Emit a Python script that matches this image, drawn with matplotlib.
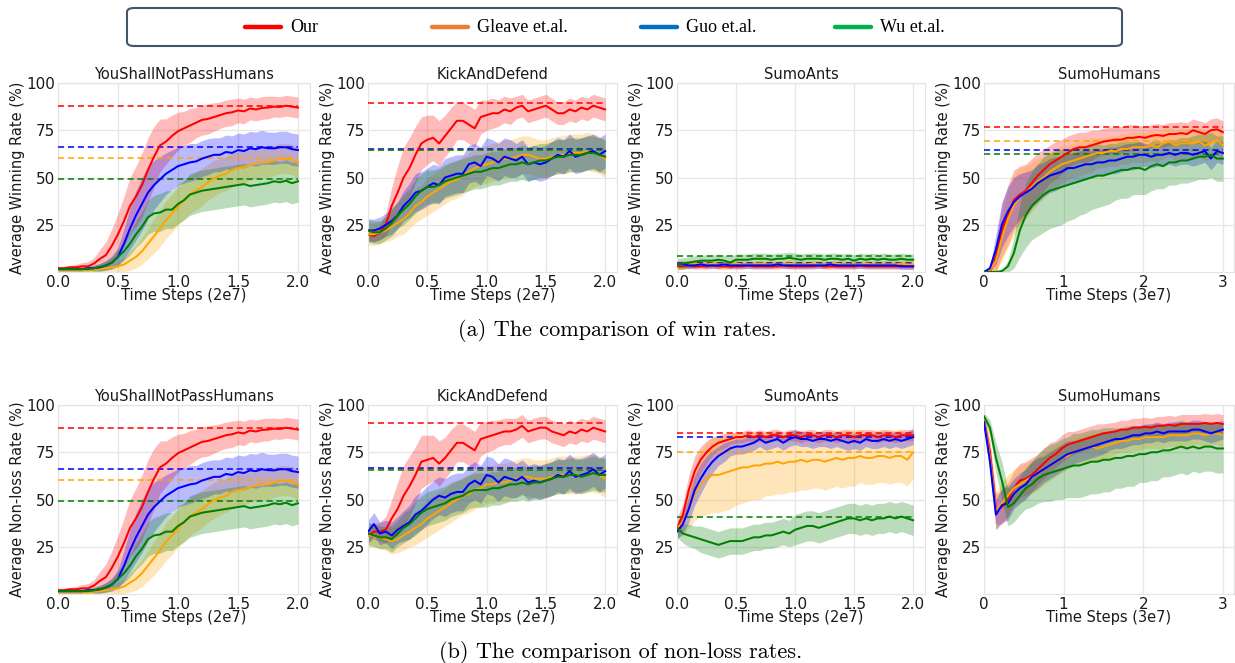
import numpy as np
import matplotlib
matplotlib.use("Agg")
import matplotlib.pyplot as plt
from matplotlib.patches import FancyBboxPatch
from matplotlib.lines import Line2D

# ---------------- data ----------------
methods = ["Our", "Gleave et.al.", "Guo et.al.", "Wu et.al."]
line_colors = ["#FF0000", "#FFA500", "#0000FF", "#008000"]
legend_colors = ["#FF0000", "#ED7D31", "#0070C0", "#00B050"]
titles = ["YouShallNotPassHumans", "KickAndDefend", "SumoAnts", "SumoHumans"]
xlabels = ["Time Steps (2e7)", "Time Steps (2e7)", "Time Steps (2e7)", "Time Steps (3e7)"]
ylabels = ["Average Winning Rate (%)", "Average Non-loss Rate (%)"]
captions = ["(a) The comparison of win rates.", "(b) The comparison of non-loss rates."]
steps_2e7 = np.linspace(0.0, 2.0, 41)
steps_3e7 = np.linspace(0.0, 3.0, 41)
yticks = [25, 50, 75, 100]
xticks_2e7 = [0.0, 0.5, 1.0, 1.5, 2.0]
xticks_3e7 = [0, 1, 2, 3]

# YouShallNotPassHumans (win rate == non-loss rate)
ysnp_our = [2, 2, 2.5, 2.5, 3, 3, 4.5, 7, 9, 14,
            20, 27, 35, 40, 46, 54, 61, 67, 69, 72,
            74.5, 76, 77.5, 79, 80.5, 81, 82, 83, 84, 84.5,
            85.5, 85, 86.5, 86, 86.8, 87, 87.5, 87.3, 88, 87.5, 87]
ysnp_our_sd = [1, 1, 1, 1.5, 2, 2.5, 3, 5, 7, 9,
               11, 13, 15, 16, 17, 17, 16, 14, 12, 11,
               10, 9, 9, 8, 8, 8, 7.5, 7, 7, 7,
               6.5, 6.5, 6, 6, 6, 6, 5.5, 5.5, 5.5, 5.5, 5.5]
ysnp_gleave = [1, 1, 1, 1, 1, 1, 1.2, 1.5, 2, 2.5,
               3, 4, 6, 8, 11, 15, 19, 23, 27.6, 31,
               34.6, 38, 41, 43, 45, 47.5, 49.6, 51, 52, 54,
               55, 55.5, 56.6, 57.5, 58.3, 58, 59, 60, 60, 59.5, 57.5]
ysnp_gleave_sd = [1, 1, 1, 1, 1, 1, 1, 1.5, 2, 2.5,
                  3, 4, 5, 6, 7, 8, 9, 9.5, 10, 10,
                  10, 10, 10, 10, 10, 9.5, 9.5, 9, 9, 9,
                  8.5, 8.5, 8, 8, 8, 8, 8, 8, 8, 8, 8]
ysnp_guo = [1.5, 1.5, 1.5, 1.5, 1.5, 2, 2, 2.5, 3.5, 5,
            8, 15, 23, 30, 36, 42, 46, 49, 52, 54,
            56, 57, 58, 58.5, 60, 61, 62, 62, 63.5, 63,
            64.5, 64, 65.4, 65, 66, 65.5, 65.4, 66, 66, 65, 64.5]
ysnp_guo_sd = [1, 1, 1, 1, 1, 1, 1.5, 2, 2.5, 3.5,
               5, 8, 11, 13, 14, 14, 13, 12, 11, 10.5,
               10, 10, 10, 9.5, 9.5, 9.5, 9, 9, 9, 9,
               9, 9, 9, 9, 9, 8.5, 8.5, 8.5, 8.5, 8.5, 8.5]
ysnp_wu = [1.5, 1.5, 1.5, 1.5, 1.5, 1.5, 2, 2.5, 3.5, 5,
           8, 11, 15, 20, 24, 29, 31, 31.5, 33, 33,
           36, 38, 41, 42, 43, 43.5, 44, 44.5, 45, 45.5,
           46, 46.5, 45.5, 46, 46.5, 47, 48, 47.5, 48.3, 47, 48]
ysnp_wu_sd = [1, 1, 1, 1, 1, 1, 1.5, 2, 2.5, 3,
              4, 5, 6, 7, 8, 9, 9.5, 10, 10, 10,
              10.5, 10.5, 11, 11, 11, 11, 11, 11, 11, 11,
              11, 11, 11, 11, 11, 11, 11, 11, 11, 11, 11]
ysnp_best = [88, 60.5, 66, 49]

# KickAndDefend win rate
kad_win_our = [20, 19, 21, 25, 35, 42, 50, 55, 62, 68,
               70, 71, 68, 72, 76, 80, 80, 78, 76, 82,
               83, 84, 84, 86, 85, 87, 88, 85, 86, 87,
               88, 86, 84, 84, 86, 85, 87, 86, 88, 87, 86]
kad_win_our_sd = [3, 3, 4, 6, 10, 14, 16, 16, 15, 14,
                  13, 12, 12, 11, 11, 10, 10, 10, 10, 9,
                  8, 8, 7, 7, 7, 6, 6, 6, 6, 6,
                  6, 6, 6, 6, 6, 6, 6, 6, 6, 6, 6]
kad_win_gleave = [20, 20, 21, 22, 24, 26, 28, 31, 35, 37,
                  40, 42, 44, 46, 48, 49, 51, 53, 55, 56,
                  57, 58, 59, 60, 60, 61, 62, 62, 61, 60,
                  60, 61, 62, 62, 63, 63, 63, 64, 63, 62, 60]
kad_win_gleave_sd = [6, 6, 6, 6, 7, 7, 8, 8, 9, 9,
                     10, 10, 10, 10, 10, 10, 10, 10, 10, 10,
                     10, 10, 10, 10, 10, 10, 10, 10, 10, 10,
                     10, 10, 10, 10, 10, 10, 10, 10, 10, 10, 10]
kad_win_guo = [22, 22, 23, 25, 27, 30, 35, 38, 42, 43,
               45, 47, 46, 50, 51, 52, 52, 57, 58, 56,
               61, 60, 58, 61, 60, 59, 61, 57, 58, 57,
               58, 60, 62, 61, 64, 61, 62, 63, 64, 62, 64]
kad_win_guo_sd = [6, 6, 6, 6, 7, 7, 8, 9, 10, 10,
                  10, 10, 10, 10, 10, 10, 10, 10, 10, 10,
                  10, 10, 10, 10, 10, 9, 9, 9, 9, 9,
                  9, 9, 9, 9, 9, 9, 9, 9, 9, 9, 9]
kad_win_wu = [22, 21, 21, 23, 26, 30, 33, 36, 40, 43,
              45, 45, 46, 48, 49, 50, 51, 52, 53, 53,
              54, 55, 55, 56, 57, 57, 58, 57, 58, 59,
              59, 60, 61, 61, 62, 62, 62, 63, 63, 62, 61]
kad_win_wu_sd = [6, 6, 6, 6, 7, 7, 8, 8, 9, 9,
                 9, 9, 9, 9, 9, 9, 9, 9, 9, 9,
                 9, 9, 9, 9, 9, 9, 9, 9, 9, 9,
                 9, 9, 9, 9, 9, 9, 9, 9, 9, 9, 9]
kad_win_best = [89.5, 64.8, 65.3, 64.5]

# SumoAnts win rate
sa_win_our = [3, 3, 3.5, 3, 3, 3, 3.5, 3, 3, 3,
              3, 3, 3.5, 3, 3, 3, 3, 3, 3.5, 3,
              3, 3, 3, 3, 3.5, 3, 3, 3, 3, 3,
              3, 3.5, 3, 3, 3, 3, 3, 3, 3, 3, 3]
sa_win_our_sd = 1.5
sa_win_gleave = [4, 4, 4, 4.5, 4, 4, 4.5, 4, 4, 4,
                 4.5, 4, 4, 4, 4.5, 4, 4, 4, 4, 4.5,
                 4, 4, 4, 4.5, 4, 4, 4, 4.5, 4, 4,
                 4, 4, 4.5, 4, 4, 4, 4, 4, 4.5, 4, 4]
sa_win_gleave_sd = 2.0
sa_win_guo = [4, 4, 3.5, 3.5, 4, 3.5, 3.5, 3.5, 4, 3.5,
              3.5, 3.5, 3.5, 3.5, 3.5, 3.5, 3.5, 4, 3.5, 3.5,
              3.5, 3.5, 3.5, 3.5, 3.5, 3.5, 4, 3.5, 3.5, 3.5,
              3.5, 3.5, 3.5, 3.5, 3.5, 3.5, 3.5, 3.5, 3, 3, 3]
sa_win_guo_sd = 1.5
sa_win_wu = [4, 4.5, 5, 5.5, 6, 6, 6, 6.5, 6, 5,
             6.5, 6.5, 6.5, 7, 7, 7, 6.5, 7, 7, 7.5,
             7, 6.5, 7, 7, 7, 6.5, 7, 7, 6.5, 7,
             6, 7, 6.5, 7, 6.5, 7, 6.5, 6.5, 7, 6.5, 6.5]
sa_win_wu_sd = 3.0
sa_win_best = [4, 5, 4.5, 8.3]

# SumoHumans win rate
sh_win_our = [0, 0, 8, 22, 30, 38, 41, 43, 47, 51,
              54, 57, 59, 61, 63, 65, 66, 66, 67, 68,
              69, 69.5, 70, 70, 71, 71, 71.5, 71, 72, 72.5,
              72, 73, 73, 73.5, 73, 75, 74, 73, 75, 75.5, 74]
sh_win_our_sd = [0, 1, 8, 14, 16, 16, 15, 14, 13, 12,
                 11, 10, 10, 9, 9, 8, 8, 8, 8, 7,
                 7, 7, 7, 7, 7, 7, 6, 6, 6, 6,
                 6, 6, 6, 6, 6, 6, 6, 6, 6, 6, 6]
sh_win_gleave = [0, 1, 6, 18, 28, 35, 40, 42, 45, 48,
                 50, 53, 55, 57, 58, 59, 60, 61, 62, 63,
                 63, 64, 64, 65, 65, 66, 66, 66, 67, 66,
                 68, 69, 67, 68, 68, 68, 69, 67, 68, 70, 67]
sh_win_gleave_sd = [0, 1, 6, 12, 15, 16, 15, 14, 13, 12,
                    11, 10, 10, 10, 9, 9, 9, 9, 9, 8,
                    8, 8, 8, 8, 8, 8, 8, 8, 8, 8,
                    8, 8, 8, 8, 8, 8, 8, 8, 8, 8, 8]
sh_win_guo = [0, 2, 12, 25, 32, 37, 40, 42, 44, 47,
              49, 51, 52, 53, 55, 55, 56, 57, 57, 58,
              58, 59, 59, 60, 61, 61, 62, 62, 61, 62,
              62, 63, 62, 63, 63, 62, 63, 64, 60, 64, 63]
sh_win_guo_sd = [0, 1, 8, 12, 13, 13, 12, 11, 10, 10,
                 9, 9, 9, 8, 8, 8, 8, 8, 7, 7,
                 7, 7, 7, 7, 7, 7, 7, 6, 6, 6,
                 6, 6, 6, 6, 6, 6, 6, 6, 6, 6, 6]
sh_win_wu = [0, 0, 0, 0.5, 3, 10, 22, 30, 35, 38,
             41, 43, 44, 45, 46, 47, 48, 49, 50, 51,
             51, 52, 53, 54, 54, 55, 55, 54, 56, 57,
             56, 58, 58, 59, 59, 60, 61, 61, 62, 60, 60]
sh_win_wu_sd = [0, 0, 0, 0.5, 3, 8, 14, 17, 18, 19,
                20, 20, 20, 20, 19, 19, 18, 18, 17, 17,
                16, 16, 15, 15, 15, 14, 14, 13, 13, 13,
                12, 12, 12, 12, 12, 12, 12, 12, 12, 12, 12]
sh_win_best = [76.8, 69.5, 64.8, 62.5]

# KickAndDefend non-loss rate
kad_nl_our = [31, 33, 33, 34, 40, 45, 52, 57, 63, 70,
              71, 72, 69, 72, 76, 80, 80, 78, 76, 82,
              83, 84, 85, 86, 86, 87, 89, 86, 87, 88,
              88, 86, 85, 84, 86, 85, 87, 86, 88, 87, 86]
kad_nl_our_sd = [4, 4, 5, 7, 10, 14, 16, 16, 15, 14,
                 13, 12, 12, 11, 11, 10, 10, 10, 10, 9,
                 8, 8, 7, 7, 7, 6, 6, 6, 6, 6,
                 6, 6, 6, 6, 6, 6, 6, 6, 6, 6, 6]
kad_nl_gleave = [31, 31, 30, 29, 28, 29, 31, 33, 35, 37,
                 40, 42, 44, 46, 48, 50, 52, 53, 55, 56,
                 58, 58, 59, 59, 60, 61, 62, 62, 61, 61,
                 61, 62, 63, 63, 63, 63, 63, 64, 64, 63, 61]
kad_nl_gleave_sd = [6, 6, 6, 6, 7, 7, 8, 8, 9, 9,
                    10, 10, 10, 10, 10, 10, 10, 10, 10, 10,
                    10, 10, 10, 10, 10, 10, 10, 10, 10, 10,
                    10, 10, 10, 10, 10, 10, 10, 10, 10, 10, 10]
kad_nl_guo = [33, 37, 32, 33, 31, 34, 36, 38, 42, 44,
              47, 50, 52, 51, 53, 54, 54, 58, 60, 58,
              63, 62, 59, 62, 61, 60, 62, 59, 60, 59,
              60, 61, 63, 62, 65, 62, 63, 64, 66, 63, 65]
kad_nl_guo_sd = [6, 6, 6, 6, 7, 7, 8, 9, 10, 10,
                 10, 10, 10, 10, 10, 10, 10, 10, 10, 10,
                 10, 10, 10, 10, 10, 9, 9, 9, 9, 9,
                 9, 9, 9, 9, 9, 9, 9, 9, 9, 9, 9]
kad_nl_wu = [32, 31, 30, 30, 29, 32, 35, 37, 40, 43,
             45, 46, 47, 48, 50, 51, 52, 54, 55, 55,
             55, 56, 56, 57, 58, 58, 59, 58, 59, 59,
             60, 61, 62, 62, 63, 63, 62, 63, 64, 63, 63]
kad_nl_wu_sd = [6, 6, 6, 6, 7, 7, 8, 8, 9, 9,
                9, 9, 9, 9, 9, 9, 9, 9, 9, 9,
                9, 9, 9, 9, 9, 9, 9, 9, 9, 9,
                9, 9, 9, 9, 9, 9, 9, 9, 9, 9, 9]
kad_nl_best = [90.5, 66.1, 66.8, 65.4]

# SumoAnts non-loss rate
sa_nl_our = [35, 42, 55, 65, 71, 75, 78, 80, 81, 82,
             83, 83, 84, 83, 84, 83, 84, 84, 83, 84,
             84, 83, 84, 84, 83, 84, 84, 83, 84, 84,
             83, 84, 84, 84, 83, 84, 84, 83, 84, 84, 84]
sa_nl_our_sd = [5, 6, 8, 8, 7, 6, 5, 4, 4, 3,
                3, 3, 3, 3, 3, 3, 3, 3, 3, 3,
                3, 3, 3, 3, 3, 3, 3, 3, 3, 3,
                3, 3, 3, 3, 3, 3, 3, 3, 3, 3, 3]
sa_nl_gleave = [35, 38, 45, 53, 58, 61, 63, 63, 64, 65,
                66, 67, 67, 68, 68, 69, 69, 70, 69, 70,
                70, 71, 70, 71, 71, 70, 71, 72, 71, 72,
                72, 73, 72, 72, 73, 73, 72, 73, 73, 71, 75]
sa_nl_gleave_sd = [5, 7, 10, 14, 17, 19, 20, 20, 20, 20,
                   19, 19, 18, 18, 18, 17, 17, 17, 16, 16,
                   16, 16, 15, 15, 15, 15, 15, 15, 15, 15,
                   15, 14, 14, 14, 14, 14, 14, 14, 14, 14, 14]
sa_nl_guo = [33, 37, 45, 55, 61, 66, 70, 73, 75, 77,
             78, 78, 79, 80, 82, 80, 81, 82, 80, 82,
             83, 82, 82, 81, 82, 82, 81, 82, 81, 80,
             81, 80, 82, 81, 81, 82, 81, 82, 81, 82, 83]
sa_nl_guo_sd = [4, 5, 7, 8, 8, 7, 6, 5, 5, 4,
                4, 4, 4, 4, 4, 4, 4, 4, 4, 4,
                4, 4, 4, 4, 4, 4, 4, 4, 4, 4,
                4, 4, 4, 4, 4, 4, 4, 4, 4, 4, 4]
sa_nl_wu = [35, 32, 31, 30, 29, 28, 27, 26, 27, 28,
            28, 28, 29, 30, 30, 31, 31, 32, 33, 32,
            34, 35, 36, 36, 35, 36, 37, 38, 39, 40,
            40, 39, 40, 39, 40, 40, 41, 40, 41, 40, 39]
sa_nl_wu_sd = [5, 5, 6, 6, 7, 7, 7, 7, 7, 7,
               7, 7, 7, 7, 7, 7, 7, 7, 7, 7,
               8, 8, 8, 8, 8, 8, 8, 8, 8, 8,
               8, 8, 8, 8, 8, 8, 8, 8, 8, 8, 8]
sa_nl_best = [85, 75, 83.2, 40.8]

# SumoHumans non-loss rate
sh_nl_our = [92, 75, 45, 46, 50, 56, 60, 61, 63, 66,
             69, 72, 74, 77, 79, 80, 81, 82, 83, 84,
             85, 85.5, 86, 87, 87, 88, 88, 88.5, 88, 89,
             89, 89.5, 89, 90, 90, 90, 90, 90.5, 90, 90.5, 90]
sh_nl_our_sd = [3, 6, 8, 9, 9, 9, 9, 9, 9, 8,
                8, 8, 7, 7, 7, 6, 6, 6, 6, 6,
                5, 5, 5, 5, 5, 5, 5, 5, 5, 5,
                5, 5, 5, 5, 5, 5, 5, 5, 5, 5, 5]
sh_nl_gleave = [92, 72, 44, 48, 52, 56, 58, 60, 62, 64,
                66, 68, 70, 72, 73, 75, 76, 77, 78, 77,
                78, 79, 80, 81, 81, 82, 82, 83, 83, 83,
                83, 84, 84, 84, 84, 85, 85, 84, 85, 85, 84]
sh_nl_gleave_sd = [3, 7, 10, 11, 11, 10, 10, 9, 9, 9,
                   8, 8, 8, 8, 7, 7, 7, 7, 7, 7,
                   7, 7, 6, 6, 6, 6, 6, 6, 6, 6,
                   6, 6, 6, 6, 6, 6, 6, 6, 6, 6, 6]
sh_nl_guo = [91, 70, 42, 47, 48, 53, 56, 58, 62, 64,
             66, 68, 70, 72, 74, 75, 76, 77, 78, 79,
             80, 81, 82, 82, 83, 84, 84, 85, 85, 86,
             85, 86, 86, 86, 86, 87, 87, 86, 85, 86, 87]
sh_nl_guo_sd = [3, 6, 8, 9, 9, 8, 8, 8, 8, 8,
                7, 7, 7, 7, 7, 6, 6, 6, 6, 6,
                6, 5, 5, 5, 5, 5, 5, 5, 5, 5,
                5, 5, 5, 5, 5, 5, 5, 5, 5, 5, 5]
sh_nl_wu = [94, 88, 72, 60, 46, 48, 52, 56, 58, 61,
            63, 64, 65, 66, 67, 68, 68, 69, 70, 70,
            71, 71, 72, 72, 73, 73, 74, 74, 75, 75,
            76, 76, 77, 78, 77, 78, 77, 78, 78, 77, 77]
sh_nl_wu_sd = [2, 4, 8, 10, 10, 10, 10, 11, 12, 13,
               14, 15, 15, 16, 16, 17, 17, 17, 17, 17,
               17, 17, 16, 16, 16, 16, 15, 15, 15, 15,
               14, 14, 14, 14, 14, 13, 13, 13, 13, 13, 13]
sh_nl_best = None

win_panels = [
    ([ysnp_our, ysnp_gleave, ysnp_guo, ysnp_wu],
     [ysnp_our_sd, ysnp_gleave_sd, ysnp_guo_sd, ysnp_wu_sd], ysnp_best),
    ([kad_win_our, kad_win_gleave, kad_win_guo, kad_win_wu],
     [kad_win_our_sd, kad_win_gleave_sd, kad_win_guo_sd, kad_win_wu_sd], kad_win_best),
    ([sa_win_our, sa_win_gleave, sa_win_guo, sa_win_wu],
     [sa_win_our_sd, sa_win_gleave_sd, sa_win_guo_sd, sa_win_wu_sd], sa_win_best),
    ([sh_win_our, sh_win_gleave, sh_win_guo, sh_win_wu],
     [sh_win_our_sd, sh_win_gleave_sd, sh_win_guo_sd, sh_win_wu_sd], sh_win_best),
]
nl_panels = [
    ([ysnp_our, ysnp_gleave, ysnp_guo, ysnp_wu],
     [ysnp_our_sd, ysnp_gleave_sd, ysnp_guo_sd, ysnp_wu_sd], ysnp_best),
    ([kad_nl_our, kad_nl_gleave, kad_nl_guo, kad_nl_wu],
     [kad_nl_our_sd, kad_nl_gleave_sd, kad_nl_guo_sd, kad_nl_wu_sd], kad_nl_best),
    ([sa_nl_our, sa_nl_gleave, sa_nl_guo, sa_nl_wu],
     [sa_nl_our_sd, sa_nl_gleave_sd, sa_nl_guo_sd, sa_nl_wu_sd], sa_nl_best),
    ([sh_nl_our, sh_nl_gleave, sh_nl_guo, sh_nl_wu],
     [sh_nl_our_sd, sh_nl_gleave_sd, sh_nl_guo_sd, sh_nl_wu_sd], sh_nl_best),
]

# ---------------- figure ----------------
W, H = 1235, 663
fig = plt.figure(figsize=(W / 100, H / 100), dpi=100)
fig.patch.set_facecolor("white")

lefts = [58, 368, 677, 984]
widths = [252, 249, 248, 250]
row_tops = [83, 405]
ax_h = 189


def px_rect(left, top, w, h):
    return [left / W, 1 - (top + h) / H, w / W, h / H]


for r, panels in enumerate([win_panels, nl_panels]):
    for c, (means, sds, best) in enumerate(panels):
        ax = fig.add_axes(px_rect(lefts[c], row_tops[r], widths[c], ax_h))
        xs = steps_3e7 if c == 3 else steps_2e7
        for k in range(4):
            m = np.asarray(means[k], dtype=float)
            s = np.asarray(sds[k], dtype=float)
            ax.fill_between(xs, m - s, m + s, color=line_colors[k], alpha=0.27,
                            linewidth=0, zorder=2)
        for k in range(4):
            m = np.asarray(means[k], dtype=float)
            ax.plot(xs, m, color=line_colors[k], lw=1.45, zorder=4)
        if best is not None:
            for k in range(4):
                ax.hlines(best[k], xs[0], xs[-1], colors=line_colors[k],
                          linestyles=(0, (4, 2.5)), lw=1.1, zorder=3)
        if c == 3:
            ax.set_xlim(0, 3.14)
            ax.set_xticks(xticks_3e7)
            ax.set_xticklabels([str(v) for v in xticks_3e7])
        else:
            ax.set_xlim(0, 2.1)
            ax.set_xticks(xticks_2e7)
            ax.set_xticklabels([f"{v:.1f}" for v in xticks_2e7])
        ax.set_ylim(0, 100)
        ax.set_yticks(yticks)
        ax.grid(True, color="#E6E6E6", lw=0.9, zorder=0)
        ax.set_axisbelow(True)
        for sp in ax.spines.values():
            sp.set_color("#E3E3E3")
            sp.set_linewidth(0.8)
        ax.tick_params(length=0, labelsize=11, pad=2, colors="#1a1a1a")
        ax.set_title(titles[c], fontsize=10.5, pad=3, color="#1a1a1a")
        ax.set_xlabel(xlabels[c], fontsize=10.5, labelpad=-1, color="#1a1a1a")
        ax.set_ylabel(ylabels[r], fontsize=10.5, labelpad=1, color="#1a1a1a")

# captions
fig.text(617 / W, 1 - 330 / H, captions[0], ha="center", va="center",
         fontsize=16, family="cmr10")
fig.text(621 / W, 1 - 652 / H, captions[1], ha="center", va="center",
         fontsize=16, family="cmr10")

# legend box
box = FancyBboxPatch((127 / W, 1 - 46 / H), 995 / W, 38 / H,
                     boxstyle="round,pad=0,rounding_size=0.006",
                     transform=fig.transFigure, facecolor="white",
                     edgecolor="#44546A", lw=1.5)
fig.add_artist(box)
handle_x = [245, 432, 641, 835]
handle_len = 36
for k in range(4):
    y = 1 - 27 / H
    fig.add_artist(Line2D([handle_x[k] / W, (handle_x[k] + handle_len) / W], [y, y],
                          transform=fig.transFigure, color=legend_colors[k], lw=3.2,
                          solid_capstyle="round"))
    fig.text((handle_x[k] + handle_len + 9) / W, y, methods[k], ha="left",
             va="center", fontsize=13, family="Liberation Serif")

fig.savefig("out.png", dpi=100, facecolor="white")
